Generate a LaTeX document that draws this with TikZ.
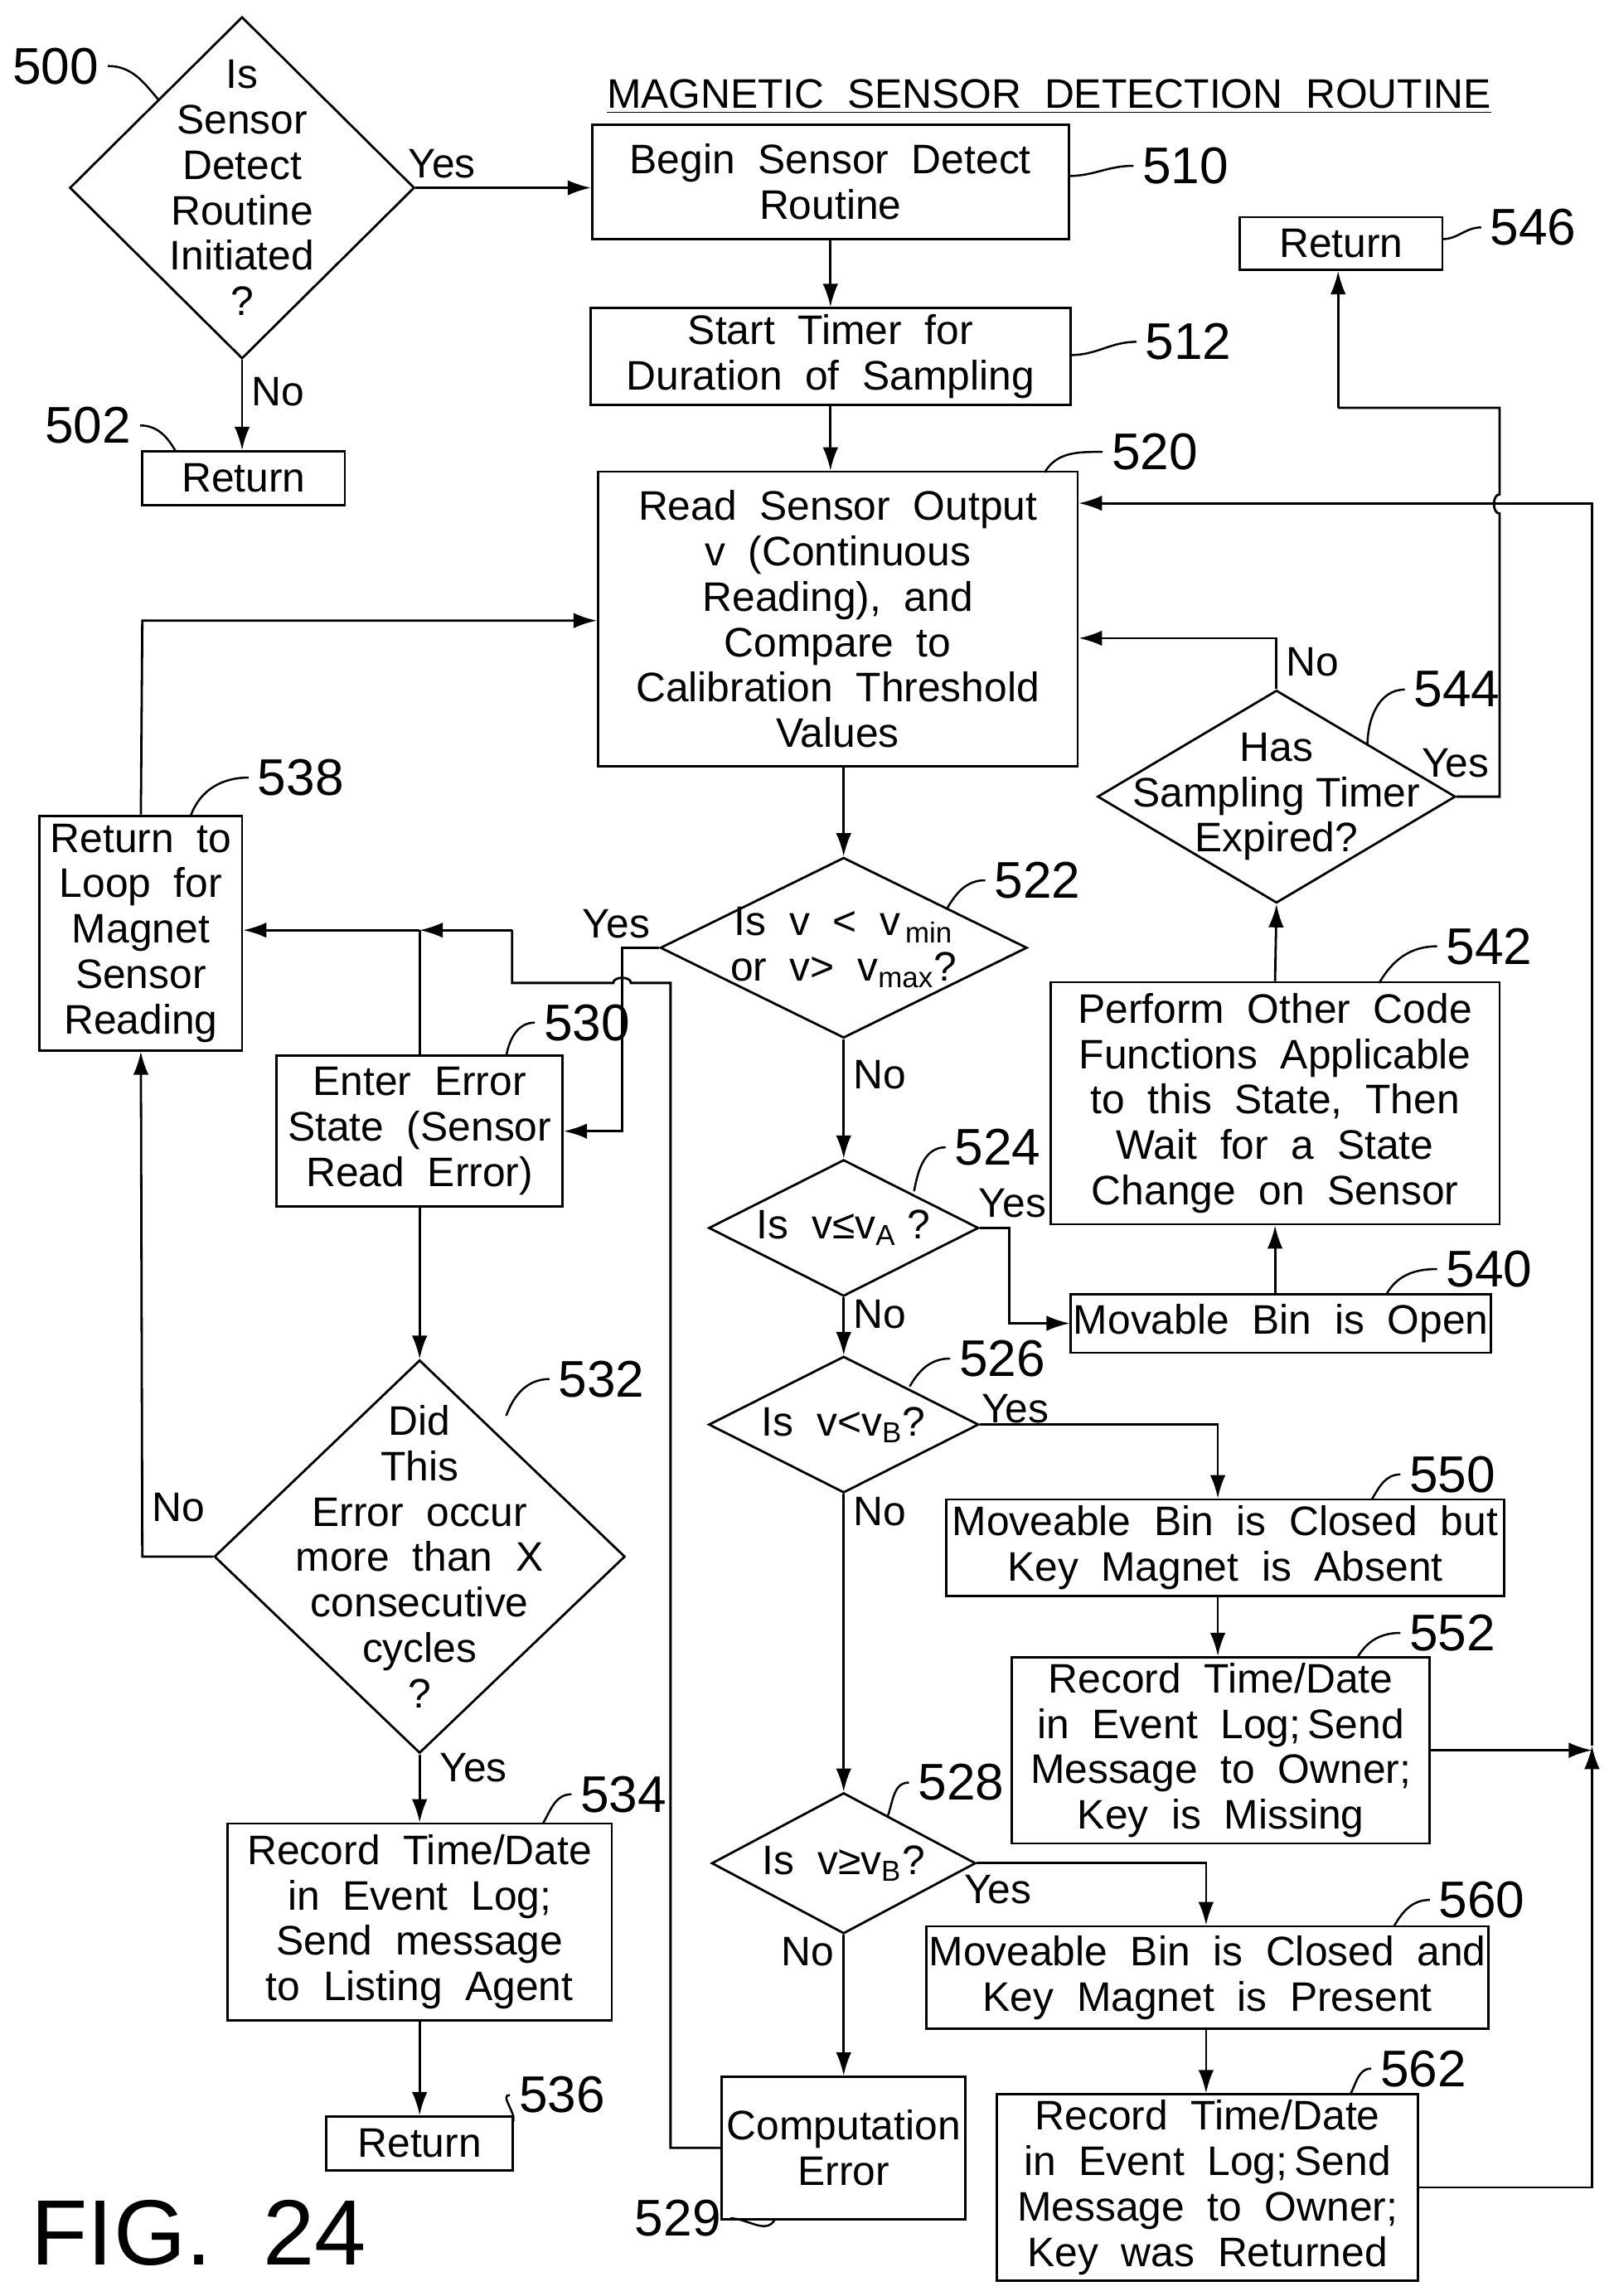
\documentclass[tikz,border=0pt]{standalone}
\usepackage{fontspec}
\setmainfont{Liberation Sans}
\usetikzlibrary{positioning, calc, arrows.meta, shapes.geometric}
\tikzset{
  sz/.style 2 args={minimum width=#1*0.02cm, minimum height=#2*0.02cm},
  box/.style={draw, line width=0.9pt, align=center, inner sep=1pt,
    font=\fontsize{16}{17.6}\selectfont},
  dia/.style={draw, diamond, line width=0.9pt, inner sep=0pt},
  txt/.style={align=center, font=\fontsize{16}{17.6}\selectfont},
  num/.style={font=\fontsize{20}{22}\selectfont},
  yn/.style={font=\fontsize{16}{18}\selectfont},
  flow/.style={line width=0.9pt, -{Latex[length=9pt,width=6pt]}},
  line/.style={line width=0.9pt},
  lead/.style={line width=0.8pt}
}
\begin{document}
\begin{tikzpicture}[x=0.02cm, y=-0.02cm]
  \useasboundingbox (0,0) rectangle (1100,1565);

  % TITLE

  \node (title) at (715,66) {\fontsize{16}{18}\selectfont\underline{MAGNETIC\ \ SENSOR\ \ DETECTION\ \ ROUTINE}};
  \node[anchor=west] (fig) at (15,1522) {\fontsize{36}{40}\selectfont FIG.\ \ 24};

  % DIAMONDS

  \node[dia, sz={235}{233}] (d500) at (165,128) {};
  \node[txt] at (d500) {Is\\Sensor\\Detect\\Routine\\Initiated\\?};
  \node[dia, sz={250}{123}] (d522) at (575,646) {};
  \node[txt] at (d522) {Is\ \ v\ \ <\ \ v\textsubscript{\,min}\\or\ \ v>\ \ v\textsubscript{max}?};
  \node[dia, sz={184}{93}] (d524) at (575,837) {};
  \node[txt] at (d524) {Is\ \ v≤v\textsubscript{A}\ ?};
  \node[dia, sz={184}{93}] (d526) at (575,971) {};
  \node[txt] at (d526) {Is\ \ v<v\textsubscript{B}?};
  \node[dia, sz={180}{96}] (d528) at (575,1270) {};
  \node[txt] at (d528) {Is\ \ v≥v\textsubscript{B}?};
  \node[dia, sz={244}{145}] (d544) at (870,543) {};
  \node[txt] at (d544) {Has\\Sampling Timer\\Expired?};
  \node[dia, sz={280}{268}] (d532) at (286,1061) {};
  \node[txt] at (d532) {Did\\This\\Error\ \ occur\\more\ \ than\ \ X\\consecutive\\cycles\\?};

  % BOXES

  \node[box, sz={138}{37}] (b502) at (166,326) {Return};
  \node[box, sz={325}{78}] (b510) at (566,124) {Begin\ \ Sensor\ \ Detect\\Routine};
  \node[box, sz={327}{66}] (b512) at (566,243) {Start\ \ Timer\ \ for\\Duration\ \ of\ \ Sampling};
  \node[box, sz={327}{201}] (b520) at (571,422) {Read\ \ Sensor\ \ Output\\v\ \ (Continuous\\Reading),\ \ and\\Compare\ \ to\\Calibration\ \ Threshold\\Values};
  \node[box, sz={138}{36}] (b546) at (914,166) {Return};
  \node[box, sz={306}{165}] (b542) at (869,752) {Perform\ \ Other\ \ Code\\Functions\ \ Applicable\\to\ \ this\ \ State,\ \ Then\\Wait\ \ for\ \ a\ \ State\\Change\ \ on\ \ Sensor};
  \node[box, sz={138}{160}] (b538) at (96,636) {Return\ \ to\\Loop\ \ for\\Magnet\\Sensor\\Reading};
  \node[box, sz={195}{103}] (b530) at (286,771) {Enter\ \ Error\\State\ \ (Sensor\\Read\ \ Error)};
  \node[box, sz={284}{40}] (b540) at (873,902) {Movable\ \ Bin\ \ is\ \ Open};
  \node[box, sz={380}{66}] (b550) at (835,1055) {Moveable\ \ Bin\ \ is\ \ Closed\ \ but\\Key\ \ Magnet\ \ is\ \ Absent};
  \node[box, sz={285}{127}] (b552) at (832,1193) {Record\ \ Time/Date\\in\ \ Event\ \ Log;\,Send\\Message\ \ to\ \ Owner;\\Key\ \ is\ \ Missing};
  \node[box, sz={383}{70}] (b560) at (823,1348) {Moveable\ \ Bin\ \ is\ \ Closed\ \ and\\Key\ \ Magnet\ \ is\ \ Present};
  \node[box, sz={287}{127}] (b562) at (823,1491) {Record\ \ Time/Date\\in\ \ Event\ \ Log;\,Send\\Message\ \ to\ \ Owner;\\Key\ \ was\ \ Returned};
  \node[box, sz={166}{97}] (b529) at (575,1464) {Computation\\Error};
  \node[box, sz={262}{134}] (b534) at (286,1310) {Record\ \ Time/Date\\in\ \ Event\ \ Log;\\Send\ \ message\\to\ \ Listing\ \ Agent};
  \node[box, sz={127}{37}] (b536) at (286,1461) {Return};

  % ARROWS

  \draw[flow] (d500.east) -- (b510.west|-d500.east) node[yn, pos=0.15, above] {Yes};
  \draw[flow] (d500.south) -- (b502.north-|d500.south) node[yn, pos=0.35, right] {No};
  \draw[flow] (b510) -- (b512);
  \draw[flow] (b512.south) -- (b520.north-|b512.south);
  \draw[flow] (b520.south-|d522) -- (d522.north);
  \draw[flow] (d522.south) -- (d524.north) node[yn, pos=0.3, right] {No};
  \draw[flow] (d524.south) -- (d526.north) node[yn, pos=0.3, right] {No};
  \draw[flow] (d526.south) -- (d528.north) node[yn, pos=0.06, right] {No};
  \draw[flow] (d528.south) -- (b529.north) node[yn, pos=0.12, left] {No};
  \draw[flow] (d522.west) -- (424,646) -- (424,771) -- (b530.east);
  \node[yn] (y522) at (420,630) {Yes};
  \draw[line] (b529.west) -- (457,1464) -- (457,670) -- (430,670)
    to[out=90,in=90] (418,670) -- (349,670) -- (349,634);
  \draw[flow] (349,634) -- (286,634);
  \draw[flow] (286,634) -- (b538.east|-0,634);
  \draw[line] (b530.north) -- (286,634);
  \draw[flow] (b530) -- (d532);
  \draw[flow] (d532.south) -- (b534.north) node[yn, pos=0.2, right=4pt] {Yes};
  \draw[flow] (b534) -- (b536);
  \draw[flow] (d532.west) -- (97,1061) -- (b538.south) node[yn, pos=0.05, above right] {No};
  \draw[flow] (b538.north) -- (97,423) -- (b520.west|-0,423);
  \draw[flow] (d524.east) -- (688,837) |- (b540.west);
  \node[yn] (y524) at (690,820) {Yes};
  \draw[flow] (b540.north-|b542) -- (b542.south);
  \draw[flow] (b542.north) -- (d544.south);
  \draw[flow] (d544.north) -- (870,435) -- (b520.east|-0,435) node[yn, pos=0, below right] {No};
  \draw[line] (d544.east) -- (1022,543) -- (1022,350) to[out=180,in=180] (1022,337)
    -- (1022,278) -- (912,278);
  \draw[flow] (912,278) -- (b546.south-|912,0);
  \node[yn] (y544) at (992,520) {Yes};
  \draw[flow] (b552.east) -- (1085,1193);
  \draw[flow] (b562.east) -- (1085,1491) -- (1085,1190);
  \draw[flow] (1085,1190) -- (1085,343) -- (b520.east|-0,343);
  \draw[flow] (d526.east) -- (830,971) -- (b550.north-|830,0);
  \draw[flow] (b550.south-|830,0) -- (b552.north-|830,0);
  \node[yn] (y526) at (692,960) {Yes};
  \draw[flow] (d528.east) -| (b560.north-|822,0);
  \node[yn] (y528) at (680,1288) {Yes};
  \draw[flow] (b560.south-|822,0) -- (b562.north-|822,0);

  % REFERENCE NUMBERS

  \node[num] (l500) at (38,45) {500};
  \draw[lead] (l500.east) to[out=0,in=130] (108,68);
  \node[num] (l502) at (60,290) {502};
  \draw[lead] (l502.east) to[out=0,in=120] (120,308);
  \node[num] (l510) at (808,113) {510};
  \draw[lead] (l510.west) to[out=180,in=0] (728,120);
  \node[num] (l512) at (810,233) {512};
  \draw[lead] (l512.west) to[out=180,in=0] (730,242);
  \node[num] (l520) at (787,308) {520};
  \draw[lead] (l520.west) to[out=180,in=60] (712,322);
  \node[num] (l546) at (1045,155) {546};
  \draw[lead] (l546.west) to[out=180,in=0] (983,163);
  \node[num] (l544) at (993,470) {544};
  \draw[lead] (l544.west) to[out=180,in=90] (932,508);
  \node[num] (l542) at (1015,645) {542};
  \draw[lead] (l542.west) to[out=180,in=60] (940,670);
  \node[num] (l522) at (707,600) {522};
  \draw[lead] (l522.west) to[out=180,in=60] (645,620);
  \node[num] (l538) at (205,530) {538};
  \draw[lead] (l538.west) to[out=180,in=70] (130,556);
  \node[num] (l530) at (400,697) {530};
  \draw[lead] (l530.west) to[out=180,in=80] (345,720);
  \node[num] (l524) at (680,782) {524};
  \draw[lead] (l524.west) to[out=180,in=80] (623,812);
  \node[num] (l540) at (1015,865) {540};
  \draw[lead] (l540.west) to[out=180,in=60] (945,882);
  \node[num] (l526) at (683,926) {526};
  \draw[lead] (l526.west) to[out=180,in=60] (620,945);
  \node[num] (l550) at (990,1005) {550};
  \draw[lead] (l550.west) to[out=180,in=60] (935,1022);
  \node[num] (l552) at (990,1113) {552};
  \draw[lead] (l552.west) to[out=180,in=60] (925,1130);
  \node[num] (l528) at (655,1215) {528};
  \draw[lead] (l528.west) to[out=180,in=70] (605,1238);
  \node[num] (l560) at (1010,1295) {560};
  \draw[lead] (l560.west) to[out=180,in=60] (950,1313);
  \node[num] (l562) at (970,1410) {562};
  \draw[lead] (l562.west) to[out=180,in=60] (920,1428);
  \node[num] (l529) at (462,1512) {529};
  \draw[lead] (l529.east) to[out=0,in=240] (528,1513);
  \node[num] (l532) at (410,940) {532};
  \draw[lead] (l532.west) to[out=180,in=70] (345,965);
  \node[num] (l534) at (425,1223) {534};
  \draw[lead] (l534.west) to[out=180,in=60] (370,1243);
  \node[num] (l536) at (383,1428) {536};
  \draw[lead] (l536.west) to[out=180,in=80] (350,1446);
\end{tikzpicture}
\end{document}
